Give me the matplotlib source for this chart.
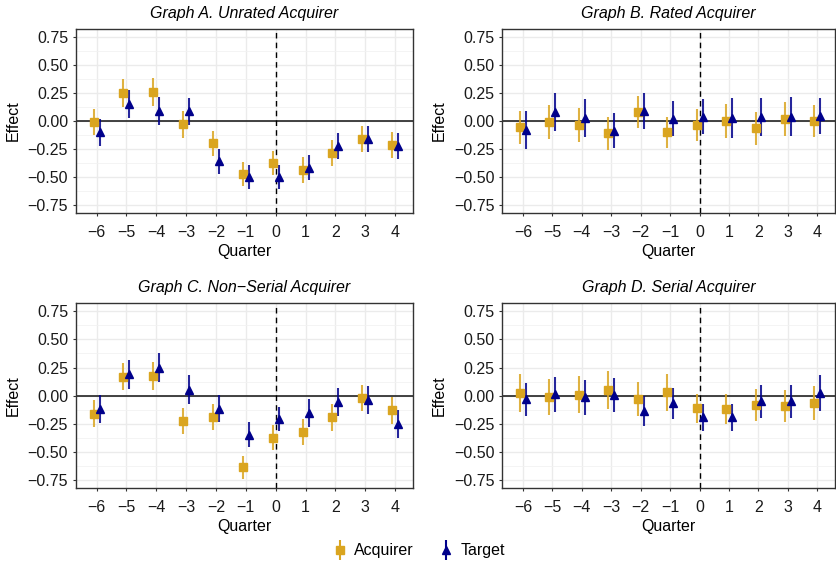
import numpy as np
import matplotlib.pyplot as plt
from matplotlib.lines import Line2D
from matplotlib.ticker import MultipleLocator

plt.rcParams['font.family'] = ['Liberation Sans', 'DejaVu Sans']

quarters = [-6, -5, -4, -3, -2, -1, 0, 1, 2, 3, 4]
titles = ["Graph A. Unrated Acquirer", "Graph B. Rated Acquirer",
          "Graph C. Non\u2212Serial Acquirer", "Graph D. Serial Acquirer"]

# point estimates and half-width of the confidence interval
acq_a = [-0.01, 0.25, 0.26, -0.03, -0.20, -0.47, -0.375, -0.44, -0.285, -0.16, -0.215]
acq_a_ci = [0.118, 0.122, 0.125, 0.118, 0.108, 0.105, 0.105, 0.115, 0.112, 0.115, 0.115]
tgt_a = [-0.10, 0.15, 0.09, 0.085, -0.36, -0.50, -0.50, -0.415, -0.225, -0.16, -0.225]
tgt_a_ci = [0.12, 0.125, 0.123, 0.12, 0.108, 0.108, 0.108, 0.115, 0.115, 0.115, 0.118]

acq_b = [-0.055, -0.01, -0.035, -0.11, 0.08, -0.10, -0.035, 0.0, -0.065, 0.02, 0.0]
acq_b_ci = [0.148, 0.152, 0.15, 0.145, 0.145, 0.14, 0.143, 0.15, 0.145, 0.15, 0.145]
tgt_b = [-0.08, 0.08, 0.03, -0.085, 0.09, 0.02, 0.04, 0.025, 0.035, 0.04, 0.045]
tgt_b_ci = [0.167, 0.167, 0.17, 0.16, 0.163, 0.158, 0.16, 0.178, 0.168, 0.172, 0.163]

acq_c = [-0.16, 0.17, 0.175, -0.225, -0.19, -0.635, -0.37, -0.325, -0.19, -0.02, -0.13]
acq_c_ci = [0.12, 0.122, 0.122, 0.115, 0.113, 0.103, 0.11, 0.115, 0.118, 0.118, 0.118]
tgt_c = [-0.12, 0.19, 0.25, 0.055, -0.115, -0.345, -0.205, -0.155, -0.055, -0.035, -0.25]
tgt_c_ci = [0.123, 0.13, 0.13, 0.125, 0.118, 0.113, 0.11, 0.123, 0.125, 0.125, 0.12]

acq_d = [0.025, -0.01, 0.01, 0.05, -0.03, 0.03, -0.11, -0.12, -0.08, -0.09, -0.065]
acq_d_ci = [0.165, 0.158, 0.163, 0.17, 0.15, 0.163, 0.128, 0.133, 0.14, 0.14, 0.15]
tgt_d = [-0.03, 0.015, -0.015, 0.005, -0.135, -0.065, -0.19, -0.19, -0.05, -0.05, 0.025]
tgt_d_ci = [0.145, 0.155, 0.153, 0.15, 0.13, 0.138, 0.12, 0.12, 0.143, 0.143, 0.158]

panels = [(acq_a, acq_a_ci, tgt_a, tgt_a_ci), (acq_b, acq_b_ci, tgt_b, tgt_b_ci),
          (acq_c, acq_c_ci, tgt_c, tgt_c_ci), (acq_d, acq_d_ci, tgt_d, tgt_d_ci)]

acq_col = '#DAA520'
tgt_col = '#00008B'
border = '#333333'
fs = 11.5

fig = plt.figure(figsize=(8.37, 5.64), dpi=100)
W, H = 837, 564
boxes = [(75.7, 29, 413, 213), (502.3, 29, 835, 213),
         (75.7, 303.3, 413, 488.3), (502.3, 303.3, 835, 488.3)]

x = np.array(quarters)
for i, (box, (acq, acq_ci, tgt, tgt_ci)) in enumerate(zip(boxes, panels)):
    l, t, r, b = box
    ax = fig.add_axes([l / W, 1 - b / H, (r - l) / W, (b - t) / H])
    ax.set_xlim(-6.7, 4.6)
    ax.set_ylim(-0.82, 0.82)
    ax.yaxis.set_minor_locator(MultipleLocator(0.125))
    ax.set_xticks(quarters)
    ax.set_xticklabels([str(q).replace('-', '\u2212') for q in quarters])
    ax.set_yticks([-0.75, -0.5, -0.25, 0, 0.25, 0.5, 0.75])
    ax.set_yticklabels(['\u22120.75', '\u22120.50', '\u22120.25', '0.00', '0.25', '0.50', '0.75'])
    ax.grid(True, which='major', color='#EBEBEB', linewidth=1.0)
    ax.grid(True, which='minor', axis='y', color='#F2F2F2', linewidth=0.6)
    ax.set_axisbelow(True)
    for s in ax.spines.values():
        s.set_color(border)
        s.set_linewidth(1.0)
    ax.tick_params(which='major', length=2.5, color=border, labelsize=fs, labelcolor='#1a1a1a', pad=3)
    ax.tick_params(axis='x', pad=6)
    ax.tick_params(which='minor', length=0)
    ax.axhline(0, color='#222222', linewidth=1.2, zorder=1)
    ax.axvline(0, color='black', linewidth=1.0, linestyle=(0, (4, 3)), zorder=1)

    ax.errorbar(x - 0.1, acq, yerr=acq_ci, fmt='none', ecolor=acq_col, elinewidth=1.5, alpha=0.85, zorder=2)
    ax.plot(x - 0.1, acq, 's', color=acq_col, markersize=6, zorder=3)
    ax.errorbar(x + 0.1, tgt, yerr=tgt_ci, fmt='none', ecolor=tgt_col, elinewidth=1.5, alpha=0.85, zorder=2)
    ax.plot(x + 0.1, tgt, '^', color=tgt_col, markersize=5.5, zorder=3)

    ax.set_title(titles[i], fontsize=fs, style='italic', pad=8)
    ax.set_xlabel('Quarter', fontsize=fs, labelpad=3)
    ax.set_ylabel('Effect', fontsize=fs, labelpad=5)

acq_h = (Line2D([], [], color=acq_col, marker='|', markersize=14, markeredgewidth=1.5, linestyle='none'),
         Line2D([], [], color=acq_col, marker='s', markersize=6, linestyle='none'))
tgt_h = (Line2D([], [], color=tgt_col, marker='|', markersize=14, markeredgewidth=1.5, linestyle='none'),
         Line2D([], [], color=tgt_col, marker='^', markersize=5.5, linestyle='none'))
fig.legend([acq_h, tgt_h], ['Acquirer', 'Target'], loc='center', bbox_to_anchor=(0.5, 1 - 551 / H),
           ncol=2, frameon=False, fontsize=fs, handletextpad=0.4, columnspacing=1.5, handlelength=1.0)

plt.savefig("out.png", dpi=100)
